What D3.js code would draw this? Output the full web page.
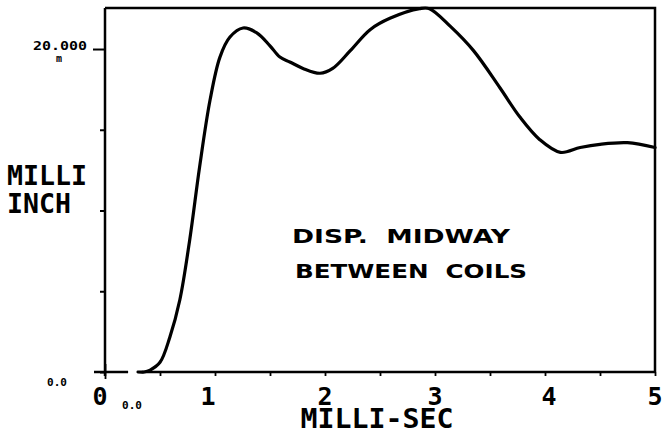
<!DOCTYPE html>
<html>
<head>
<meta charset="utf-8">
<script src="https://cdn.jsdelivr.net/npm/d3@7"></script>
<style>
  html, body { margin: 0; padding: 0; background: #fff; }
  svg { display: block; }
  text { fill: #000; }
</style>
</head>
<body>
<div id="chart"></div>
<script>
// ---- data ----
const timeMs = [0.30, 0.355, 0.41, 0.50, 0.59, 0.68, 0.77, 0.86, 0.955, 1.045, 1.136, 1.255, 1.38, 1.50, 1.59, 1.68, 1.80, 1.955, 2.07, 2.23, 2.41, 2.59, 2.86, 2.95, 3.14, 3.35, 3.59, 3.77, 3.95, 4.14, 4.32, 4.50, 4.75, 5.0];
const dispMilliInch = [0.0, 0.0, 0.12, 0.6, 2.17, 4.46, 8.18, 12.7, 16.84, 19.5, 20.74, 21.3, 21.0, 20.2, 19.5, 19.2, 18.8, 18.5, 18.8, 19.9, 21.2, 21.9, 22.5, 22.5, 21.4, 19.9, 17.6, 15.8, 14.4, 13.6, 13.9, 14.1, 14.2, 13.9];
const xTicks = [0, 0.5, 1, 1.5, 2, 2.5, 3, 3.5, 4, 4.5, 5];
const xTickLabels = ["0", "1", "2", "3", "4", "5"];
const xLabelValues = [0, 1, 2, 3, 4, 5];
const yTicks = [0, 5, 10, 15, 20];
const yMax = 22.54;
const xLabel = "MILLI-SEC";
const yLabelLines = ["MILLI", "INCH"];
const noteLines = ["DISP.  MIDWAY", "BETWEEN  COILS"];

// ---- layout ----
const W = 662, H = 436;
const margin = { left: 105, right: 7, top: 8, bottom: 64 };

const svg = d3.select("#chart").append("svg").attr("width", W).attr("height", H);

const x = d3.scaleLinear().domain([0, 5]).range([margin.left, W - margin.right]);
const y = d3.scaleLinear().domain([0, yMax]).range([H - margin.bottom, margin.top]);

const mono = "'DejaVu Sans Mono', 'Liberation Mono', monospace";

// frame: top & right borders
svg.append("path")
  .attr("d", `M${x(0)},${y(yMax)} H${x(5)} V${y(0)}`)
  .attr("fill", "none").attr("stroke", "#000").attr("stroke-width", 2.5);

// left axis
const yAxis = d3.axisLeft(y).tickValues(yTicks).tickSize(5).tickFormat("");
const gy = svg.append("g").attr("transform", `translate(${x(0)},0)`).call(yAxis);
gy.select(".domain").attr("stroke-width", 2.5).attr("d", `M0,${y(0) + 4}V${y(yMax)}`);
gy.selectAll(".tick line").attr("stroke-width", 2);
gy.selectAll(".tick").filter(d => d === 20).select("line").attr("x2", -12);

// bottom axis (ticks only)
const xAxis = d3.axisBottom(x).tickValues(xTicks).tickSize(4).tickFormat("");
const gx = svg.append("g").attr("transform", `translate(0,${y(0)})`).call(xAxis);
gx.select(".domain").remove();
gx.selectAll(".tick line").attr("stroke-width", 1.8);
gx.selectAll(".tick").filter(d => d === 0).select("line").attr("y1", -8).attr("y2", 7);

// baseline (with the small gap as in the plot)
const baseSegs = [[-0.1, 0.21], [0.335, 5]];
baseSegs.forEach(s => {
  svg.append("line")
    .attr("x1", x(s[0])).attr("x2", x(s[1]))
    .attr("y1", y(0)).attr("y2", y(0))
    .attr("stroke", "#000").attr("stroke-width", 2.5);
});

// curve
svg.append("path")
  .datum(dispMilliInch)
  .attr("d", d3.line()
    .x((d, i) => x(timeMs[i]))
    .y(d => y(d))
    .curve(d3.curveCatmullRom.alpha(0.5)))
  .attr("fill", "none").attr("stroke", "#000").attr("stroke-width", 3.2)
  .attr("stroke-linejoin", "round").attr("stroke-linecap", "round");

// x tick labels
const xLabelDx = { 0: -5, 1: -7, 2: 0, 3: 0, 4: 4, 5: 0 };
svg.append("g").selectAll("text").data(xLabelValues).join("text")
  .attr("x", d => x(d) + xLabelDx[d])
  .attr("y", 405)
  .attr("text-anchor", "middle")
  .attr("font-family", mono).attr("font-weight", "bold").attr("font-size", 25)
  .text((d, i) => xTickLabels[i]);

// small "0.0" labels
svg.append("text").attr("x", 132).attr("y", 409).attr("text-anchor", "middle")
  .attr("font-family", mono).attr("font-weight", "bold").attr("font-size", 11).text("0.0");
svg.append("text").attr("x", 57).attr("y", 386).attr("text-anchor", "middle")
  .attr("font-family", mono).attr("font-weight", "bold").attr("font-size", 11).text("0.0");

// "20.000" label
svg.append("text").attr("x", 60).attr("y", y(20) + 1).attr("text-anchor", "middle")
  .attr("font-family", mono).attr("font-weight", "bold").attr("font-size", 13)
  .attr("textLength", 54).attr("lengthAdjust", "spacingAndGlyphs").text("20.000");
svg.append("text").attr("x", 59).attr("y", y(20) + 13).attr("text-anchor", "middle")
  .attr("font-family", mono).attr("font-weight", "bold").attr("font-size", 10).text("m");

// y axis title
svg.append("g").selectAll("text").data(yLabelLines).join("text")
  .attr("x", 7).attr("y", (d, i) => 185 + i * 28)
  .attr("font-family", mono).attr("font-weight", "bold").attr("font-size", 27)
  .attr("textLength", (d) => d.length * 16).attr("lengthAdjust", "spacingAndGlyphs")
  .text(d => d);

// x axis title
svg.append("text").attr("x", 377).attr("y", 428).attr("text-anchor", "middle")
  .attr("font-family", mono).attr("font-weight", "bold").attr("font-size", 27)
  .attr("textLength", 153).attr("lengthAdjust", "spacingAndGlyphs")
  .text(xLabel);

// annotation
svg.append("g").selectAll("text").data(noteLines).join("text")
  .attr("x", (d, i) => i === 0 ? 292 : 295)
  .attr("y", (d, i) => 243 + i * 35)
  .attr("font-family", "'DejaVu Sans', sans-serif").attr("font-weight", "bold").attr("font-size", 20)
  .attr("textLength", (d, i) => i === 0 ? 218 : 232).attr("lengthAdjust", "spacingAndGlyphs")
  .style("white-space", "pre")
  .text(d => d);
</script>
</body>
</html>
